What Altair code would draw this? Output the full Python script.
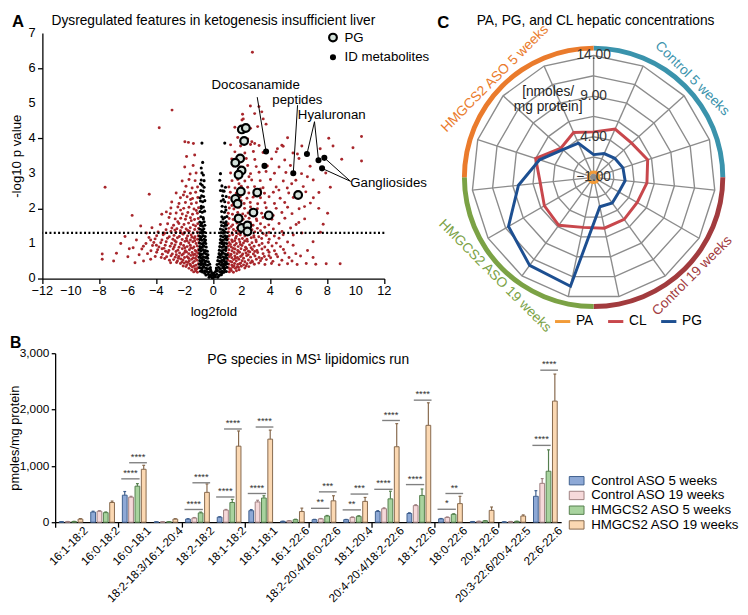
import altair as alt
import pandas as pd

FONT = "Liberation Sans"

# ======================= Panel A : volcano =======================
red_points = [
    (-1.12,0.18),(-1.24,0.22),(-1.38,0.19),(-1.52,0.24),
    (-1.08,0.31),(-1.29,0.28),(-1.47,0.33),(-1.71,0.29),(-1.92,0.34),(-2.12,0.36),
    (-1.05,0.42),(-1.22,0.38),(-1.44,0.45),(-1.63,0.41),(-1.86,0.39),(-2.04,0.44),(-2.31,0.43),(-2.58,0.46),
    (-1.14,0.52),(-1.33,0.49),(-1.52,0.55),(-1.69,0.51),(-1.91,0.48),(-2.13,0.53),(-2.29,0.56),(-2.52,0.5),(-2.79,0.54),(-3.08,0.52),(-3.41,0.57),
    (-1.02,0.61),(-1.18,0.64),(-1.41,0.59),(-1.58,0.66),(-1.83,0.62),(-2.02,0.6),(-2.21,0.67),(-2.43,0.63),(-2.68,0.61),(-2.97,0.65),(-3.28,0.62),(-3.66,0.6),(-4.08,0.63),
    (-1.09,0.72),(-1.31,0.69),(-1.49,0.74),(-1.73,0.71),(-1.88,0.76),(-2.11,0.7),(-2.37,0.73),(-2.62,0.77),(-2.88,0.7),(-3.19,0.74),(-3.58,0.69),(-3.98,0.75),(-4.62,0.71),(-5.21,0.68),
    (-1.04,0.83),(-1.27,0.8),(-1.46,0.86),(-1.68,0.82),(-1.97,0.79),(-2.18,0.85),(-2.49,0.81),(-2.82,0.84),(-3.12,0.8),(-3.47,0.86),(-3.91,0.82),(-4.38,0.79),(-5.02,0.84),
    (-1.13,0.93),(-1.36,0.9),(-1.62,0.95),(-1.84,0.91),(-2.09,0.94),(-2.41,0.89),(-2.69,0.96),(-3.03,0.92),(-3.38,0.95),(-3.82,0.9),(-4.27,0.94),(-4.91,0.92),(-5.63,0.88),
    (-1.01,1.03),(-1.21,1.0),(-1.44,1.05),(-1.72,1.02),(-1.99,1.06),(-2.28,1.01),(-2.61,1.04),(-2.93,1.0),(-3.31,1.05),(-3.69,1.02),(-4.18,1.03),(-4.73,1.0),
    (-1.11,1.12),(-1.34,1.15),(-1.61,1.1),(-1.89,1.14),(-2.19,1.11),(-2.52,1.16),(-2.84,1.12),(-3.22,1.15),(-3.61,1.1),(-4.09,1.13),(-4.52,1.17),
    (-1.06,1.22),(-1.29,1.19),(-1.56,1.24),(-1.81,1.21),(-2.12,1.26),(-2.39,1.2),(-2.76,1.23),(-3.09,1.19),(-3.52,1.25),(-3.98,1.22),
    (-1.12,1.33),(-1.42,1.3),(-1.69,1.35),(-2.02,1.31),(-2.31,1.36),(-2.63,1.32),(-2.98,1.34),(-3.42,1.29),(-3.88,1.33),
    (-1.04,1.43),(-1.31,1.4),(-1.62,1.45),(-1.91,1.41),(-2.21,1.46),(-2.56,1.42),(-2.91,1.44),(-3.32,1.39),(-4.31,1.45),
    (-1.09,1.56),(-1.41,1.53),(-1.74,1.58),(-2.06,1.54),(-2.42,1.57),(-2.79,1.52),(-3.21,1.56),(-3.72,1.54),
    (-1.06,1.71),(-1.32,1.68),(-1.61,1.73),(-1.96,1.69),(-2.29,1.72),(-2.68,1.7),(-3.11,1.74),
    (-1.12,1.86),(-1.46,1.83),(-1.79,1.88),(-2.18,1.84),(-2.61,1.87),(-3.02,1.85),(-3.62,1.83),
    (-1.04,2.02),(-1.36,1.98),(-1.71,2.03),(-2.08,2.0),(-2.49,2.04),(-2.98,2.01),
    (-1.19,2.16),(-1.54,2.13),(-1.96,2.17),(-2.41,2.14),(-2.92,2.18),
    (-1.09,2.31),(-1.46,2.28),(-1.84,2.33),(-2.31,2.3),
    (-1.24,2.46),(-1.61,2.43),(-2.02,2.47),(-2.61,2.44),
    (-1.11,2.61),(-1.49,2.58),(-1.92,2.63),
    (-1.28,2.79),(-1.71,2.82),(-2.19,2.78),
    (-1.21,3.01),(-1.63,2.98),(-1.42,3.22),(-2.01,3.18),(-1.31,3.52),(-1.88,3.48),
    (-1.75,3.88),(-1.4,3.85),(-2.0,3.9),
    (-2.9,4.8),(-3.8,4.3),(-4.5,2.4),(-5.7,1.8),(-7.6,2.6),(-7.8,0.7),(-7.8,0.55),(-7.0,0.5),
    (-6.5,1.0),(-6.0,0.62),(-5.5,0.45),(-6.2,1.2),(-5.1,1.5),(-4.9,0.5),(-4.4,0.55),(-5.9,0.85),
    (-6.8,0.72),(-5.4,1.1),(-4.7,1.3),
    (-1.17,0.27),(-1.35,0.36),(-1.6,0.37),(-1.78,0.46),(-2.2,0.47),(-2.45,0.58),(-1.26,0.57),(-1.74,0.58),
    (-2.6,0.68),(-1.4,0.68),(-2.0,0.75),(-3.35,0.78),(-1.2,0.77),(-1.58,0.88),(-2.3,0.98),(-2.0,0.88),
    (-2.75,0.9),(-1.3,1.08),(-1.85,1.08),(-2.7,1.08),(-1.5,1.18),(-2.25,1.3),(-1.8,1.37),(-2.7,1.38),
    (-1.25,1.5),(-1.55,1.65),(-2.5,1.62),(-1.9,1.78),(-1.2,1.94),(-2.3,1.95),(-1.6,2.25),(-2.1,2.38),
    (-3.3,1.9),(-3.5,1.3),(-4.0,0.95),(-3.0,0.45),(-3.6,0.85),(-4.4,1.1),
    (1.12,0.19),(1.26,0.23),(1.41,0.18),(1.62,0.22),(1.81,0.25),
    (1.06,0.31),(1.21,0.28),(1.36,0.33),(1.54,0.29),(1.76,0.32),(1.96,0.35),(2.21,0.3),(2.49,0.34),
    (1.09,0.41),(1.31,0.38),(1.49,0.43),(1.71,0.4),(1.92,0.44),(2.12,0.39),(2.36,0.42),(2.61,0.45),(2.88,0.41),
    (3.19,0.44),(3.62,0.4),(4.08,0.43),(4.62,0.39),(5.21,0.42),(5.88,0.4),(6.52,0.43),(7.19,0.41),(7.92,0.42),(8.9,0.42),
    (1.02,0.52),(1.19,0.49),(1.42,0.54),(1.61,0.5),(1.79,0.55),(2.02,0.51),(2.21,0.48),(2.46,0.53),(2.71,0.5),
    (3.02,0.55),(3.31,0.51),(3.72,0.54),(4.18,0.49),(4.81,0.52),(5.52,0.5),
    (1.11,0.62),(1.29,0.59),(1.51,0.64),(1.69,0.6),(1.91,0.63),(2.12,0.58),(2.34,0.65),(2.61,0.61),(2.92,0.64),
    (3.21,0.6),(3.58,0.63),(4.02,0.59),(4.51,0.62),(5.31,0.6),(6.12,0.64),
    (1.04,0.72),(1.24,0.69),(1.46,0.74),(1.66,0.71),(1.84,0.75),(2.06,0.7),(2.29,0.73),(2.56,0.76),(2.81,0.7),
    (3.11,0.74),(3.49,0.71),(3.91,0.75),(4.41,0.69),(5.02,0.73),(5.79,0.71),
    (1.09,0.82),(1.31,0.79),(1.52,0.84),(1.71,0.8),(1.94,0.85),(2.19,0.81),(2.46,0.78),(2.74,0.83),(3.06,0.8),
    (3.41,0.84),(3.82,0.81),(4.29,0.79),(4.92,0.83),(6.61,0.8),
    (1.06,0.93),(1.26,0.9),(1.49,0.95),(1.74,0.91),(2.01,0.94),(2.26,0.89),(2.54,0.96),(2.86,0.92),(3.21,0.95),
    (3.61,0.9),(4.12,0.93),(4.71,0.91),
    (1.11,1.02),(1.34,1.05),(1.61,1.0),(1.86,1.04),(2.11,1.01),(2.39,1.06),(2.71,1.02),(3.01,1.05),(3.42,1.0),
    (3.86,1.03),(4.42,1.01),(5.21,1.04),
    (1.04,1.13),(1.29,1.1),(1.56,1.15),(1.81,1.11),(2.04,1.14),(2.36,1.12),(2.66,1.16),(2.99,1.1),(3.39,1.14),
    (3.92,1.12),(4.61,1.15),
    (1.12,1.22),(1.36,1.25),(1.61,1.2),(1.89,1.24),(2.21,1.21),(2.51,1.26),(2.84,1.22),(3.19,1.19),(3.71,1.23),
    (4.28,1.21),(5.61,1.24),
    (1.06,1.33),(1.31,1.3),(1.59,1.35),(1.91,1.31),(2.19,1.34),(2.56,1.29),(2.91,1.33),(3.31,1.36),(3.91,1.31),
    (4.82,1.34),(6.21,1.3),(7.52,1.32),
    (1.09,1.43),(1.41,1.4),(1.69,1.45),(2.01,1.41),(2.36,1.44),(2.71,1.39),(3.09,1.43),(3.61,1.46),(4.21,1.41),(5.42,1.44),
    (1.04,1.56),(1.36,1.53),(1.66,1.58),(1.99,1.54),(2.41,1.57),(2.79,1.52),(3.31,1.56),(3.89,1.53),(4.61,1.57),
    (5.81,1.54),(7.71,1.55),
    (1.11,1.71),(1.39,1.68),(1.76,1.73),(2.09,1.69),(2.51,1.72),(3.02,1.7),(3.49,1.74),(4.11,1.69),(5.02,1.72),(6.41,1.7),
    (1.05,1.86),(1.34,1.83),(1.71,1.88),(2.06,1.84),(2.44,1.87),(2.91,1.83),(3.39,1.86),(4.02,1.84),(4.81,1.88),
    (5.52,1.85),(8.02,1.86),
    (1.12,2.01),(1.44,1.98),(1.81,2.03),(2.19,2.0),(2.61,2.04),(3.09,1.99),(3.71,2.02),(4.41,2.0),(5.21,2.03),(6.02,1.99),
    (1.06,2.16),(1.41,2.13),(1.74,2.18),(2.16,2.14),(2.59,2.17),(3.11,2.13),(3.62,2.16),(4.29,2.14),(5.01,2.17),(6.81,2.15),
    (1.11,2.31),(1.51,2.28),(1.89,2.33),(2.36,2.29),(2.79,2.32),(3.31,2.3),(3.91,2.33),(4.69,2.29),(5.61,2.31),(7.02,2.3),
    (1.19,2.46),(1.61,2.43),(2.01,2.48),(2.49,2.44),(3.02,2.47),(3.59,2.43),(4.21,2.46),(5.29,2.44),(6.49,2.47),(7.41,2.45),
    (1.09,2.61),(1.52,2.58),(1.96,2.63),(2.41,2.6),(2.89,2.62),(3.49,2.59),(4.41,2.61),(5.19,2.58),(6.31,2.62),(8.21,2.6),
    (1.31,2.79),(1.71,2.82),(2.21,2.78),(2.69,2.81),(3.29,2.79),(4.01,2.82),(4.91,2.78),(5.79,2.8),(7.01,2.81),
    (1.21,3.01),(1.62,2.98),(2.09,3.02),(2.61,2.99),(3.21,3.03),(4.29,3.0),(5.09,3.02),(6.19,2.99),(7.89,3.01),
    (1.41,3.21),(1.89,3.18),(2.41,3.22),(3.01,3.19),(3.79,3.21),(4.61,3.18),(5.41,3.22),(6.79,3.2),
    (1.29,3.41),(1.81,3.38),(2.31,3.42),(2.91,3.39),(4.09,3.41),(5.01,3.38),(6.01,3.42),(9.01,3.4),
    (1.51,3.61),(2.21,3.58),(2.81,3.62),(3.49,3.59),(4.41,3.61),(5.59,3.58),(10.4,3.35),
    (1.21,3.81),(1.91,3.78),(2.61,3.82),(3.21,3.79),(4.81,3.8),(6.21,3.78),(7.5,3.7),(8.4,3.78),(9.8,3.73),(4.9,3.77),
    (1.71,4.02),(2.41,3.98),(2.7,3.9),(2.9,3.85),(5.21,4.01),(10.4,4.05),(8.1,4.0),
    (1.51,4.31),(2.61,4.28),(3.11,4.33),(3.7,4.4),(2.01,4.52),(2.1,4.55),(3.5,4.55),
    (2.05,4.68),(3.4,4.75),(2.9,4.7),(3.2,4.9),(2.6,4.92),(2.74,6.45),
    (1.17,0.26),(1.45,0.36),(1.66,0.33),(1.85,0.42),(2.3,0.36),(2.75,0.47),(1.3,0.47),(1.55,0.58),(2.0,0.66),
    (2.45,0.68),(3.4,0.57),(1.2,0.66),(1.76,0.77),(2.33,0.85),(2.9,0.77),(1.4,0.86),(1.9,0.97),(2.65,0.88),
    (3.9,0.65),(1.2,0.97),(1.5,1.08),(2.2,1.07),(2.85,1.18),(1.75,1.28),(2.4,1.38),(3.5,1.28),(1.25,1.48),
    (1.85,1.5),(2.6,1.6),(3.05,1.65),(1.6,1.79),(2.25,1.78),(2.75,1.95),(1.3,2.08),(1.95,2.22),(2.9,2.38),
    (3.3,2.55),(1.8,2.7),(2.5,2.9),(4.6,2.52),(5.5,2.7),(4.2,1.8),(4.9,1.25),(5.6,0.95),(6.0,1.6),(7.0,0.6),
    (6.4,2.05),(3.7,3.05),(4.5,3.7),(5.9,3.55),(6.6,2.9),(7.4,2.0),(7.0,1.05),
]

black_points = [
    (-0.3,0.04),(-0.15,0.06),(0.0,0.03),(0.14,0.05),(0.31,0.04),(-0.08,0.02),(0.07,0.08),
    (-0.52,0.1),(-0.36,0.12),(-0.21,0.09),(-0.05,0.11),(0.1,0.1),(0.24,0.12),(0.41,0.09),(0.56,0.11),
    (-0.9,0.21),(-0.76,0.19),(-0.61,0.22),(-0.46,0.2),(-0.31,0.18),(-0.16,0.21),(0.16,0.2),(0.29,0.22),(0.46,0.19),(0.61,0.21),(0.74,0.18),(0.91,0.2),
    (-0.96,0.31),(-0.81,0.29),(-0.66,0.32),(-0.51,0.3),(-0.36,0.28),(-0.21,0.31),(0.21,0.3),(0.36,0.32),(0.49,0.28),(0.66,0.31),(0.81,0.29),(0.95,0.32),
    (-0.98,0.41),(-0.86,0.39),(-0.71,0.42),(-0.56,0.4),(-0.41,0.38),(-0.26,0.41),(0.26,0.4),(0.41,0.42),(0.55,0.38),(0.71,0.41),(0.85,0.39),(0.98,0.42),
    (-0.95,0.51),(-0.81,0.49),(-0.66,0.52),(-0.5,0.5),(-0.35,0.48),(0.31,0.51),(0.45,0.49),(0.61,0.52),(0.76,0.5),(0.9,0.48),
    (-0.98,0.61),(-0.86,0.59),(-0.7,0.62),(-0.56,0.6),(-0.4,0.58),(0.35,0.61),(0.5,0.59),(0.66,0.62),(0.8,0.6),(0.95,0.58),
    (-0.95,0.71),(-0.8,0.69),(-0.66,0.72),(-0.5,0.7),(-0.38,0.68),(0.4,0.71),(0.55,0.69),(0.71,0.72),(0.85,0.7),(0.98,0.68),
    (-0.98,0.81),(-0.85,0.79),(-0.7,0.82),(-0.55,0.8),(-0.42,0.78),(0.42,0.81),(0.57,0.79),(0.72,0.82),(0.87,0.8),
    (-0.95,0.91),(-0.8,0.89),(-0.65,0.92),(-0.5,0.9),(0.45,0.91),(0.6,0.89),(0.75,0.92),(0.9,0.9),
    (-0.97,1.01),(-0.83,0.99),(-0.68,1.02),(-0.53,1.0),(0.48,1.01),(0.63,0.99),(0.78,1.02),(0.93,1.0),
    (-0.95,1.11),(-0.8,1.09),(-0.65,1.12),(-0.55,1.1),(0.5,1.11),(0.65,1.09),(0.8,1.12),(0.95,1.1),
    (-0.97,1.21),(-0.83,1.19),(-0.7,1.22),(-0.57,1.2),(0.52,1.21),(0.67,1.19),(0.82,1.22),(0.96,1.2),
    (-0.93,1.31),(-0.78,1.29),(-0.62,1.32),(0.55,1.31),(0.7,1.29),(0.85,1.32),
    (-0.96,1.41),(-0.82,1.39),(-0.67,1.42),(0.5,1.41),(0.66,1.39),(0.88,1.42),
    (-0.9,1.51),(-0.75,1.49),(-0.6,1.52),(0.58,1.51),(0.75,1.49),(0.92,1.52),
    (-0.95,1.61),(-0.8,1.59),(-0.65,1.62),(0.55,1.61),(0.72,1.59),(0.9,1.62),
    (-0.88,1.76),(-0.72,1.74),(0.6,1.76),(0.8,1.74),(0.95,1.77),
    (-0.93,1.91),(-0.78,1.89),(-0.62,1.92),(0.58,1.91),(0.78,1.89),
    (-0.85,2.06),(-0.7,2.04),(0.62,2.06),(0.85,2.04),
    (-0.9,2.21),(-0.75,2.19),(-0.6,2.22),(0.55,2.21),(0.8,2.19),
    (-0.82,2.36),(-0.68,2.34),(0.65,2.36),(0.9,2.34),
    (-0.88,2.51),(-0.72,2.49),(0.5,2.51),(0.75,2.49),
    (-0.78,2.66),(0.6,2.64),(-0.85,2.81),(-0.65,2.79),(0.45,2.8),
    (-0.8,3.01),(0.5,2.99),(-0.75,3.31),(-0.8,3.86),(0.8,3.86),
    (-0.6,0.15),(-0.45,0.27),(-0.7,0.35),(-0.58,0.46),(-0.85,0.45),(-0.9,0.66),(-0.75,0.55),(-0.62,0.76),
    (-0.88,0.86),(-0.72,0.96),(-0.6,1.05),(-0.88,1.16),(-0.75,1.35),(-0.86,1.55),(-0.7,1.7),(-0.85,2.0),
    (-0.93,2.3),(-0.65,2.6),(-0.9,2.7),(-0.7,2.95),(-0.85,3.15),
    (0.6,0.15),(0.45,0.27),(0.72,0.35),(0.58,0.46),(0.85,0.45),(0.9,0.66),(0.75,0.55),(0.62,0.76),
    (0.88,0.86),(0.72,0.96),(0.6,1.05),(0.88,1.16),(0.75,1.35),(0.86,1.55),(0.68,1.7),(0.88,1.95),
    (0.7,2.25),(0.85,2.6),(0.65,2.5),(-0.45,0.62),(0.48,0.66),(-0.1,0.15),(0.05,0.16),(-0.2,0.25),
    (0.22,0.25),(0.78,0.25),(-0.8,0.25),
]

pg_points = [(2.0,4.25),(2.28,4.29),(2.16,3.92),(1.88,3.42),(1.54,3.30),(1.98,3.08),(1.77,2.96),
             (1.93,2.48),(1.54,2.27),(1.70,2.13),(3.08,2.45),(2.81,1.88),(3.89,1.80),(5.95,2.38),
             (1.77,1.71),(1.98,1.44),(2.39,1.51),(2.39,1.34)]
id_points = [(3.70,3.62),(3.59,3.21),(5.61,3.00),(6.57,3.55),(7.38,3.37),(7.79,3.44),(7.63,3.14)]

ann_labels = ["Docosanamide", "peptides", "Hyaluronan", "Gangliosides"]
ann_label_x = [2.97, 5.90, 8.31, 12.3]
ann_label_y = [5.52, 5.09, 4.66, 2.73]
ann_anchor_x = [3.08, 5.91, 7.10, 9.63]
ann_anchor_y = [5.17, 4.94, 4.47, 2.77]
ann_targets = [[0], [2], [3, 4], [5, 6]]

p_threshold = 1.3
a_x_ticks = list(range(-12, 13, 2))
a_y_ticks = list(range(0, 8))
a_title = "Dysregulated features in ketogenesis insufficient liver"

# ======================= Panel B : grouped bars =======================
b_categories = ["16:1-18:2", "16:0-18:2", "16:0-18:1", "18:2-18:3/16:1-20:4", "18:2-18:2",
                "18:1-18:2", "18:1-18:1", "16:1-22:6", "18:2-20:4/16:0-22:6", "18:1-20:4",
                "20:4-20:4/18:2-22:6", "18:1-22:6", "18:0-22:6", "20:4-22:6",
                "20:3-22:6/20:4-22:5", "22:6-22:6"]
b_series = ["Control ASO 5 weeks", "Control ASO 19 weeks", "HMGCS2 ASO 5 weeks", "HMGCS2 ASO 19 weeks"]
ctrl5_mean = [8, 180, 480, 5, 55, 90, 205, 15, 45, 45, 190, 155, 60, 10, 5, 460]
ctrl5_err = [3, 15, 65, 2, 8, 8, 20, 3, 6, 5, 15, 12, 6, 2, 2, 100]
ctrl19_mean = [10, 195, 445, 6, 75, 215, 360, 25, 60, 85, 240, 295, 85, 15, 10, 690]
ctrl19_err = [3, 10, 15, 2, 8, 12, 30, 4, 6, 8, 15, 15, 8, 3, 3, 85]
hm5_mean = [12, 170, 640, 8, 165, 350, 430, 45, 110, 105, 415, 475, 140, 25, 15, 905]
hm5_err = [4, 12, 45, 2, 15, 55, 40, 8, 10, 10, 135, 115, 10, 4, 3, 380]
hm19_mean = [55, 350, 940, 55, 530, 1350, 1475, 190, 380, 370, 1340, 1720, 330, 210, 110, 2150]
hm19_err = [10, 25, 70, 8, 150, 270, 160, 60, 90, 70, 410, 400, 130, 60, 20, 480]
b_y_ticks = [0, 1000, 2000, 3000]

sig_index = [2, 4, 5, 6, 8, 9, 10, 11, 12, 15]
sig_low_level = [770, 226, 448, 510, 247, 219, 584, 668, 230, 1364]
sig_low_mark = ["****", "****", "****", "****", "**", "**", "****", "****", "*", "****"]
sig_high_level = [1056, 700, 1655, 1690, 539, 500, 1806, 2167, 510, 2699]
sig_high_mark = ["****", "****", "****", "****", "***", "***", "****", "****", "**", "****"]
b_title = "PG species in MS¹ lipidomics run"

# ======================= Panel C : radar =======================
radar_series = ["PA", "CL", "PG"]
pa_values = [-0.35, -0.33, -0.36, -0.34, -0.35, -0.37, -0.34, -0.35, -0.36, -0.33, -0.35, -0.34, -0.36, -0.35, -0.34]
cl_values = [4.6, 5.5, 5.3, 6.0, 5.6, 5.2, 5.4, 5.4, 5.3, 6.3, 6.0, 5.6, 6.5, 4.4, 5.05]
pg_values = [1.8, 2.2, 2.5, 2.8, 2.9, 2.6, 2.9, 2.7, 12.7, 12.4, 11.1, 8.3, 6.0, 4.1, 3.6]
radar_min = -1.0
ring_levels = [1.5, 4, 6.5, 9, 11.5, 14]
radar_tick_levels = [-1, 4, 9, 14]
radar_groups = ["Control 5 weeks", "Control 19 weeks", "HMGCS2 ASO 19 weeks", "HMGCS2 ASO 5 weeks"]
c_title = "PA, PG, and CL hepatic concentrations"

# ---------------------------------------------------------------
RED = "#A8272C"
AXIS_COMMON = dict(grid=False, domainColor="black", domainWidth=1.3, tickColor="black", tickWidth=1.3,
                   titleColor="black", titleFontWeight="normal", labels=False)


def text_at(label, x, y, **kw):
    return alt.Chart(pd.DataFrame({"t": [label]})).mark_text(**kw).encode(
        text="t:N", x=alt.value(x), y=alt.value(y))


# ---------- Panel A ----------
A_W, A_H = 348, 250
xsA = alt.Scale(domain=[-12, 12], nice=False, zero=False)
ysA = alt.Scale(domain=[0, 7], nice=False, zero=False)
axA_x = alt.Axis(values=a_x_ticks, title="log2fold", tickSize=5, titleFontSize=13.5,
                 titlePadding=21, **AXIS_COMMON)
axA_y = alt.Axis(values=a_y_ticks, title="-log10 p value", tickSize=5, titleFontSize=13.5,
                 titlePadding=14, **AXIS_COMMON)

red_df = pd.DataFrame(red_points, columns=["x", "y"])
black_df = pd.DataFrame(black_points, columns=["x", "y"])
mark_df = pd.DataFrame(
    [{"x": x, "y": y, "type": "PG"} for x, y in pg_points]
    + [{"x": x, "y": y, "type": "ID metabolites"} for x, y in id_points]
)
ann_line_df = pd.DataFrame([
    {"x": ann_anchor_x[i], "y": ann_anchor_y[i], "x2": id_points[t][0], "y2": id_points[t][1]}
    for i in range(len(ann_labels)) for t in ann_targets[i]
])
ann_text_df = pd.DataFrame({"label": ann_labels, "x": ann_label_x, "y": ann_label_y})

a_red = alt.Chart(red_df).mark_circle(size=9, color=RED, opacity=1).encode(
    x=alt.X("x:Q", scale=xsA, axis=axA_x), y=alt.Y("y:Q", scale=ysA, axis=axA_y))
a_black = alt.Chart(black_df).mark_circle(size=10, color="black", opacity=1).encode(x="x:Q", y="y:Q")
a_thr = alt.Chart(pd.DataFrame({"y": [p_threshold]})).mark_rule(
    color="black", strokeWidth=2.2, strokeDash=[2, 2.4]).encode(y="y:Q")
legA = alt.Legend(orient="none", legendX=289, legendY=-2, title=None, labelFontSize=13.5,
                  symbolStrokeWidth=2.2, rowPadding=3, padding=0, labelOffset=5)
mark_types = ["PG", "ID metabolites"]
a_marks = alt.Chart(mark_df).mark_point(filled=False, strokeWidth=2.2, opacity=1).encode(
    x="x:Q", y="y:Q",
    fill=alt.Fill("type:N", scale=alt.Scale(domain=mark_types, range=["#D4E2DB", "black"]), legend=legA),
    stroke=alt.Stroke("type:N", scale=alt.Scale(domain=mark_types, range=["black", "black"]), legend=legA),
    size=alt.Size("type:N", scale=alt.Scale(domain=mark_types, range=[62, 16]), legend=legA),
)
a_lines = alt.Chart(ann_line_df).mark_rule(color="black", strokeWidth=1).encode(
    x="x:Q", y="y:Q", x2="x2:Q", y2="y2:Q")
a_text = alt.Chart(ann_text_df).mark_text(fontSize=13.5, color="black").encode(
    x="x:Q", y="y:Q", text="label:N")
a_xlab = alt.Chart(pd.DataFrame({"v": a_x_ticks})).mark_text(
    fontSize=13, baseline="top", align="center", color="black").encode(
    x="v:Q", y=alt.value(A_H + 7), text="v:Q")
a_ylab = alt.Chart(pd.DataFrame({"v": a_y_ticks})).mark_text(
    fontSize=13, baseline="middle", align="right", color="black").encode(
    y="v:Q", x=alt.value(-7), text="v:Q")
a_letter = text_at("A", -31, -11, fontSize=17, fontWeight="bold", align="left", baseline="middle", color="black")
a_head = text_at(a_title, A_W / 2, -12, fontSize=14, baseline="middle", align="center", color="black")

panelA = alt.layer(a_red, a_black, a_thr, a_lines, a_marks, a_text, a_xlab, a_ylab, a_letter,
                   a_head).properties(width=A_W, height=A_H)

# ---------- Panel C ----------
C_W, C_H = 296, 298
C_CX, C_CY = 163, 147        # pixel centre of the radar inside the view
R_OUT = 124                  # pixel radius of the outer grid ring
n_spokes = len(pg_values)
r_span = ring_levels[-1] - radar_min
PXU = R_OUT / r_span
xsC = alt.Scale(domain=[-C_CX / PXU, (C_W - C_CX) / PXU], nice=False, zero=False)
ysC = alt.Scale(domain=[-(C_H - C_CY) / PXU, C_CY / PXU], nice=False, zero=False)
theta_expr = f"datum.k * 2 * PI / {n_spokes}"

ring_df = pd.DataFrame([{"level": L, "k": k} for L in ring_levels for k in range(n_spokes)])
spoke_df = pd.DataFrame({"k": list(range(n_spokes)), "level": ring_levels[-1]})
series_df = pd.DataFrame(
    [{"series": s, "k": k, "v": v}
     for s, vals in zip(radar_series, [pa_values, cl_values, pg_values]) for k, v in enumerate(vals)])
arc_df = pd.DataFrame({"group": radar_groups, "i": list(range(4))})
tick_df = pd.DataFrame({"v": radar_tick_levels})

c_rings = alt.Chart(ring_df).transform_calculate(
    r=f"datum.level - ({radar_min})", th=theta_expr
).transform_calculate(x="datum.r * sin(datum.th)", y="datum.r * cos(datum.th)").mark_line(
    interpolate="linear-closed", color="#8C8C8C", strokeWidth=1.4).encode(
    x=alt.X("x:Q", scale=xsC, axis=None), y=alt.Y("y:Q", scale=ysC, axis=None),
    detail="level:N", order="k:Q")
c_spokes = alt.Chart(spoke_df).transform_calculate(
    r=f"datum.level - ({radar_min})", th=theta_expr, zero="0"
).transform_calculate(x="datum.r * sin(datum.th)", y="datum.r * cos(datum.th)").mark_rule(
    color="#8C8C8C", strokeWidth=1.4).encode(x="zero:Q", y="zero:Q", x2="x:Q", y2="y:Q")
c_arcs = alt.Chart(arc_df).transform_calculate(
    t0="datum.i * PI / 2", t1="(datum.i + 1) * PI / 2", c="0"
).mark_arc(radius=134, radius2=129).encode(
    x="c:Q", y="c:Q",
    theta=alt.Theta("t0:Q", scale=None), theta2="t1:Q",
    fill=alt.Fill("group:N", scale=alt.Scale(domain=radar_groups,
                  range=["#3A93AC", "#A23B3E", "#7BA245", "#EA7B2C"]), legend=None))
c_group_text = alt.Chart(arc_df).transform_calculate(
    th="(datum.i * 90 + 45) * PI / 180", rot="(datum.i % 2 == 0) ? 45 : 315",
    R=f"{142 / PXU}"
).transform_calculate(x="datum.R * sin(datum.th)", y="datum.R * cos(datum.th)").mark_text(
    fontSize=14, baseline="middle", align="center").encode(
    x="x:Q", y="y:Q", text="group:N", angle=alt.Angle("rot:Q", scale=None),
    fill=alt.Fill("group:N", legend=None))
legC = alt.Legend(orient="none", direction="horizontal", legendX=122, legendY=284, title=None,
                  symbolType="stroke", symbolStrokeWidth=3, symbolSize=240, labelFontSize=14,
                  columnPadding=8, padding=0, labelOffset=4)
c_series = alt.Chart(series_df).transform_calculate(
    r=f"datum.v - ({radar_min})", th=theta_expr
).transform_calculate(x="datum.r * sin(datum.th)", y="datum.r * cos(datum.th)").mark_line(
    interpolate="linear-closed", strokeWidth=3).encode(
    x="x:Q", y="y:Q", order="k:Q",
    stroke=alt.Stroke("series:N", scale=alt.Scale(domain=radar_series,
                      range=["#F29B38", "#C8474C", "#1D4F91"]), legend=legC))
c_ticks = alt.Chart(tick_df).transform_calculate(
    x="0", y=f"datum.v - ({radar_min})").mark_text(fontSize=14, color="#333333").encode(
    x="x:Q", y="y:Q", text=alt.Text("v:Q", format=".2f"))
c_unit = alt.Chart(pd.DataFrame({"t": [["[nmoles/", "mg protein]"]], "x": [-5.6], "y": [10.5]})).mark_text(
    fontSize=14, color="#222222", lineHeight=15).encode(x="x:Q", y="y:Q", text="t")
c_letter = text_at("C", 4, -10, fontSize=17, fontWeight="bold", align="left", baseline="middle", color="black")
c_head = text_at(c_title, C_CX + 2, -12, fontSize=14, baseline="middle", align="center", color="black")

panelC = alt.layer(c_rings, c_spokes, c_arcs, c_series, c_ticks, c_unit, c_group_text, c_letter,
                   c_head).properties(width=C_W, height=C_H)

# ---------- Panel B ----------
B_INSET = 13                 # y axis drawn a little inside B's view
B_PLOT_W, B_H = 515, 172
B_W = B_INSET + B_PLOT_W
b_rows = []
for si, (s, means, errs) in enumerate(zip(b_series, [ctrl5_mean, ctrl19_mean, hm5_mean, hm19_mean],
                                           [ctrl5_err, ctrl19_err, hm5_err, hm19_err])):
    for ci, cat in enumerate(b_categories):
        b_rows.append({"cat": cat, "ci": ci, "series": s, "si": si, "v": means[ci], "e": errs[ci]})
b_df = pd.DataFrame(b_rows)
sig_rows = []
for j, ci in enumerate(sig_index):
    sig_rows.append({"ci": ci, "lo": -0.41, "hi": 0.17, "level": sig_low_level[j], "mark": sig_low_mark[j]})
    sig_rows.append({"ci": ci, "lo": -0.16, "hi": 0.40, "level": sig_high_level[j], "mark": sig_high_mark[j]})
sig_df = pd.DataFrame(sig_rows)
cat_df = pd.DataFrame({"cat": b_categories, "ci": list(range(len(b_categories)))})

b_fills = ["#8EA9D6", "#F6D9DA", "#A8D39E", "#FBD8B2"]
b_strokes = ["#3E5F8E", "#9E7F80", "#557F4E", "#86684C"]
xsB = alt.Scale(domain=[-0.5, len(b_categories) - 0.5], range=[B_INSET, B_W], nice=False, zero=False)
ysB = alt.Scale(domain=[0, 3000], nice=False)
axB_x = alt.Axis(values=[i - 0.5 for i in range(len(b_categories))], tickSize=5, title=None, **AXIS_COMMON)
axB_y = alt.Axis(values=b_y_ticks, title="pmoles/mg protein", tickSize=4, titleFontSize=13,
                 titlePadding=30, offset=-B_INSET, **AXIS_COMMON)
legB = alt.Legend(orient="none", legendX=B_W + 9, legendY=123, title=None, labelFontSize=13.5,
                  symbolType="M-1.5,-0.85H1.5V0.85H-1.5Z", symbolSize=100, symbolStrokeWidth=1,
                  rowPadding=0, labelOffset=8, padding=0)

pos = "datum.ci + (datum.si - 1.5) * 0.2"
b_base = alt.Chart(b_df).transform_calculate(xc=pos).transform_calculate(
    xl="datum.xc - 0.075", xr="datum.xc + 0.075", top="datum.v + datum.e",
    cl="datum.xc - 0.045", cr="datum.xc + 0.045", zero="0")
b_bars = b_base.mark_bar(strokeWidth=1).encode(
    x=alt.X("xl:Q", scale=xsB, axis=axB_x), x2="xr:Q",
    y=alt.Y("v:Q", scale=ysB, axis=axB_y), y2="zero:Q",
    fill=alt.Fill("series:N", scale=alt.Scale(domain=b_series, range=b_fills), legend=legB),
    stroke=alt.Stroke("series:N", scale=alt.Scale(domain=b_series, range=b_strokes), legend=legB))
b_err = b_base.mark_rule(strokeWidth=1.2).encode(
    x="xc:Q", y="v:Q", y2="top:Q",
    color=alt.Color("series:N", scale=alt.Scale(domain=b_series, range=b_strokes), legend=None))
b_cap = b_base.mark_rule(strokeWidth=1.2).encode(
    x="cl:Q", x2="cr:Q", y="top:Q",
    color=alt.Color("series:N", legend=None))
b_sig_base = alt.Chart(sig_df).transform_calculate(
    x1="datum.ci + datum.lo", x2="datum.ci + datum.hi", xm="datum.ci + (datum.lo + datum.hi) / 2")
b_sig_line = b_sig_base.mark_rule(color="#808080", strokeWidth=1.4).encode(
    x="x1:Q", x2="x2:Q", y="level:Q")
b_sig_text = b_sig_base.mark_text(fontSize=9.5, color="#333333", baseline="bottom", dy=-1).encode(
    x="xm:Q", y="level:Q", text="mark:N")
b_cat_text = alt.Chart(cat_df).transform_calculate(xa="datum.ci + 0.36").mark_text(
    fontSize=11.8, angle=315, align="right", baseline="top", color="black").encode(
    x="xa:Q", y=alt.value(B_H + 3), text="cat:N")
b_ylab = alt.Chart(pd.DataFrame({"v": b_y_ticks})).mark_text(
    fontSize=12, baseline="middle", align="right", color="black").encode(
    y="v:Q", x=alt.value(B_INSET - 6), text=alt.Text("v:Q", format=","))
b_letter = text_at("B", -33, -10, fontSize=16, fontWeight="bold", align="left", baseline="middle", color="black")
b_head = text_at(b_title, B_INSET + B_PLOT_W / 2, 7, fontSize=14, baseline="middle", align="center",
                 color="black")

panelB = alt.layer(b_bars, b_err, b_cap, b_sig_line, b_sig_text, b_cat_text, b_ylab, b_letter,
                   b_head).properties(width=B_W, height=B_H)

INDEP = dict(fill="independent", stroke="independent", color="independent", size="independent",
             x="independent", y="independent")
top_row = alt.hconcat(panelA, panelC, spacing=4).resolve_scale(**INDEP)
chart = alt.vconcat(top_row, panelB, spacing=0, padding=0).resolve_scale(
    **INDEP).configure(font=FONT).configure_view(stroke=None)

chart.save("out.html", embed_options={"renderer": "svg", "actions": False})
